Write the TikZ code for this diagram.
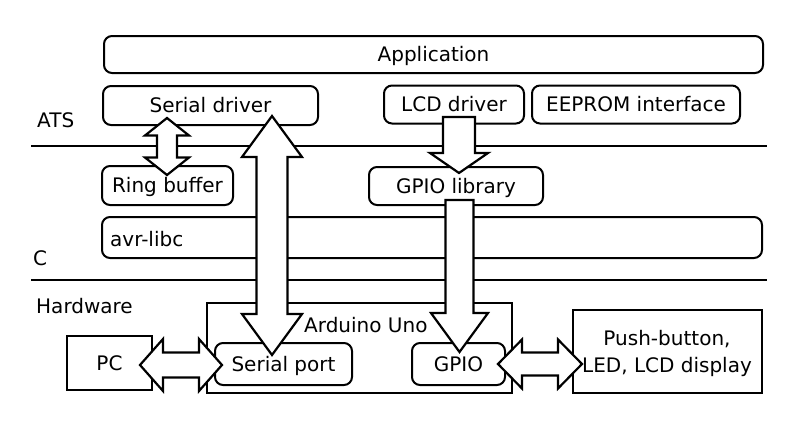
\documentclass[tikz,border=0pt]{standalone}
\usepackage{fontspec}
\setmainfont{DejaVu Sans}
\usetikzlibrary{calc}
\tikzset{
  box/.style={draw, line width=2pt, rounded corners=8pt, inner sep=0pt, text height=14.6pt, text depth=0pt},
  sbox/.style={draw, line width=2pt, inner sep=0pt, text height=14.6pt, text depth=0pt},
  lbl/.style={inner sep=0pt, text height=14.6pt, text depth=0pt},
  fat/.style={draw, fill=white, line width=2.2pt, line join=miter},
  layer/.style={line width=2pt}
}
% vertical double arrow: top tip, bottom tip, shaft half width, head half width, head length
\newcommand{\vdblarrow}[5]{%
  \draw[fat] let \p1=#1, \p2=#2 in
    (\x1,\y1) -- (\x1+#4pt,\y1-#5pt) -- (\x1+#3pt,\y1-#5pt) -- (\x2+#3pt,\y2+#5pt) --
    (\x2+#4pt,\y2+#5pt) -- (\x2,\y2) -- (\x2-#4pt,\y2+#5pt) -- (\x2-#3pt,\y2+#5pt) --
    (\x1-#3pt,\y1-#5pt) -- (\x1-#4pt,\y1-#5pt) -- cycle;}
% vertical single arrow pointing down: shaft start, tip
\newcommand{\vsglarrow}[5]{%
  \draw[fat] let \p1=#1, \p2=#2 in
    (\x1-#3pt,\y1) -- (\x1+#3pt,\y1) -- (\x2+#3pt,\y2+#5pt) -- (\x2+#4pt,\y2+#5pt) --
    (\x2,\y2) -- (\x2-#4pt,\y2+#5pt) -- (\x2-#3pt,\y2+#5pt) -- cycle;}
% horizontal double arrow: left tip, right tip
\newcommand{\hdblarrow}[5]{%
  \draw[fat] let \p1=#1, \p2=#2 in
    (\x1,\y1) -- (\x1+#5pt,\y1+#4pt) -- (\x1+#5pt,\y1+#3pt) -- (\x2-#5pt,\y2+#3pt) --
    (\x2-#5pt,\y2+#4pt) -- (\x2,\y2) -- (\x2-#5pt,\y2-#4pt) -- (\x2-#5pt,\y2-#3pt) --
    (\x1+#5pt,\y1-#3pt) -- (\x1+#5pt,\y1-#4pt) -- cycle;}
\begin{document}
\begin{tikzpicture}[x=1pt,y=-1pt,font=\fontsize{20}{24}\selectfont]
\useasboundingbox (0,0) rectangle (800,431);

% layer separators
\coordinate (atsL) at (31,146); \coordinate (atsR) at (767,146);
\coordinate (cL) at (31,280);   \coordinate (cR) at (767,280);
\draw[layer] (atsL) -- (atsR);
\draw[layer] (cL) -- (cR);

% layer labels
\node[lbl, anchor=west] (ats) at (37,120) {ATS};
\node[lbl, anchor=west] (clab) at (33,258) {C};
\node[lbl, anchor=west] (hw) at (36,306) {Hardware};

% ATS layer
\node[box, minimum width=659, minimum height=37] (app) at (433.5,54.5) {Application};
\node[box, minimum width=215, minimum height=39] (sd) at (210.5,105.5) {Serial driver};
\node[box, minimum width=140, minimum height=38] (lcd) at (454,104.5) {LCD driver};
\node[box, minimum width=208, minimum height=38] (eep) at (636,104.5) {EEPROM interface};
\node[box, minimum width=131, minimum height=39] (rb) at (167.5,185.5) {Ring buffer};
\node[box, minimum width=174, minimum height=38] (gl) at (456,186) {GPIO library};

% C layer
\node[box, minimum width=660, minimum height=41] (avr) at (432,237.5) {};
\node[lbl, anchor=west] (avrt) at (110,239) {avr-libc};

% Hardware
\node[sbox, minimum width=305, minimum height=90] (uno) at (359.5,348) {};
\node[lbl, anchor=west] (unot) at (304,325) {Arduino Uno};
\node[box, minimum width=137, minimum height=42] (sp) at (283.5,364) {Serial port};
\node[box, minimum width=93, minimum height=42] (gpio) at (458.5,364) {GPIO};
\node[sbox, minimum width=85, minimum height=54] (pc) at (109.5,363) {PC};
\node[sbox, minimum width=189, minimum height=83] (pb) at (667.5,351.5) {};
\node[lbl] (pb1) at (667,338) {Push-button,};
\node[lbl] (pb2) at (667,365) {LED, LCD display};

% arrow end points
\coordinate (rbA) at (167,118);   \coordinate (rbB) at (167,175);
\coordinate (bA) at (272,116);    \coordinate (bB) at (272,355);
\coordinate (lA) at (459,117);    \coordinate (lB) at (459,173);
\coordinate (gA) at (459.5,200);  \coordinate (gB) at (459.5,352);
\coordinate (pA) at (140,365);    \coordinate (pB) at (222,365);
\coordinate (qA) at (498,364);    \coordinate (qB) at (582,364);

\vdblarrow{(rbA)}{(rbB)}{10}{22}{17.5}
\vdblarrow{(bA)}{(bB)}{15.5}{30}{41}
\vsglarrow{(lA)}{(lB)}{16}{29}{20}
\vsglarrow{(gA)}{(gB)}{14}{28.5}{39}
\hdblarrow{(pA)}{(pB)}{12.5}{26}{23}
\hdblarrow{(qA)}{(qB)}{11.5}{24.5}{24}
\end{tikzpicture}
\end{document}
